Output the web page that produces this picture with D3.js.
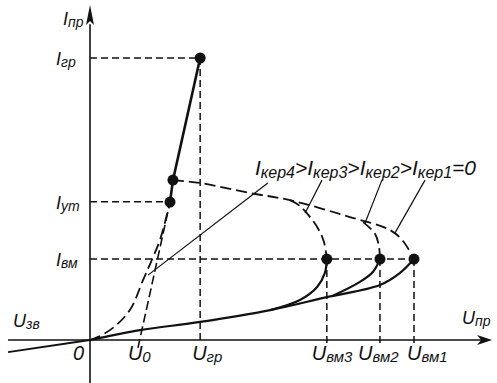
<!DOCTYPE html>
<html><head><meta charset="utf-8">
<script src="https://cdn.jsdelivr.net/npm/d3@7"></script>
<style>body{margin:0;background:#fff}svg text{font-family:"Liberation Sans",Arial,sans-serif;font-style:italic;fill:#111}</style>
</head><body><svg id="c" width="497" height="383"></svg>
<script>
// Values: U in % of U_вм1, I in % of I_гр
const xTickLabels = [["0",""],["U","0"],["U","гр"],["U","вм3"],["U","вм2"],["U","вм1"]];
const xTickValues = [0, 15.4, 34, 73.1, 89.5, 100];
const yTickLabels = [["I","гр"],["I","ут"],["I","вм"]];
const yTickValues = [100, 49, 28.7];
const curveIk1 = [[0,0],[15.4,3.5],[34,6.4],[55.6,10.6],[73.1,15.2],[89.5,19.5],[95.7,23.8],[100,28.7]];
const curveIk3Rise = [[55.6,10.6],[64.8,14.2],[70.1,18.8],[72.5,23.8],[73.1,28.7]];
const curveIk2Rise = [[75,15.7],[83.3,20.6],[87.3,24.1],[89.5,28.7]];
const reverseBranch = [[-25.3,-4.3],[0,0]];
const onState = [[24.7,48.9],[25.6,56.7],[34,100]];
const negIk1 = [[25.6,56.7],[34,55.7],[49.4,52.1],[61.7,49.6],[80.2,43.6],[92.6,39],[96.6,35.1],[100,28.7]];
const negIk2 = [[84.3,41.8],[88,37.6],[89.2,33],[89.5,28.7]];
const negIk3 = [[61.7,49.6],[64.8,47.5],[70.1,40.1],[72.2,34.8],[73.1,28.7]];
const curveIk4 = [[0,0],[2.5,1.1],[7.1,4.3],[12.3,10.6],[16.4,21.3],[19.1,28.4],[21.6,35.5],[24.1,46.1],[24.7,48.9]];
const u0Line = [[14.8,-2.8],[24.7,48.9]];
const dots = [[34,100],[25.6,56.7],[24.7,48.9],[73.1,28.7],[89.5,28.7],[100,28.7]];
const annoLines = [[[54.9,55.7],[17.9,23]],[[71.6,56.7],[66.4,45]],[[90.1,56.7],[84.9,41.5]],[[103.4,56.7],[94.1,37.9]]];
const legendParts = [["I","кер4",">"],["I","кер3",">"],["I","кер2",">"],["I","кер1","=0"]];

const svg = d3.select("#c");
const x = d3.scaleLinear().domain([0,100]).range([90,414]);
const y = d3.scaleLinear().domain([0,100]).range([340,58]);
const ink = "#111";
const line = d3.line().x(d=>x(d[0])).y(d=>y(d[1]));
const smooth = d3.line().x(d=>x(d[0])).y(d=>y(d[1])).curve(d3.curveCatmullRom.alpha(0.5));

// axes
svg.append("line").attr("x1",x(-25.3)).attr("x2",x(122)).attr("y1",y(0)).attr("y2",y(0)).attr("stroke",ink).attr("stroke-width",1.6);
svg.append("line").attr("x1",x(0)).attr("x2",x(0)).attr("y1",y(-16)).attr("y2",y(112)).attr("stroke",ink).attr("stroke-width",1.6);
const xe = x(124.1), y0 = y(0);
svg.append("path").attr("d",`M${xe},${y0} L${xe-15},${y0-5} L${xe-11},${y0} L${xe-15},${y0+5} Z`).attr("fill",ink);
const ye = y(118.8), x0 = x(0);
svg.append("path").attr("d",`M${x0},${ye} L${x0-4},${ye+20} L${x0},${ye+16} L${x0+4},${ye+20} Z`).attr("fill",ink);

// guides
const guide = (pts)=>svg.append("path").attr("d",line(pts)).attr("fill","none").attr("stroke",ink).attr("stroke-width",1.5).attr("stroke-dasharray","7,4");
guide([[0,yTickValues[0]],[34,yTickValues[0]]]);
guide([[0,yTickValues[1]],[24.7,yTickValues[1]]]);
guide([[0,yTickValues[2]],[100,yTickValues[2]]]);
guide([[xTickValues[2],100],[xTickValues[2],0]]);
[3,4,5].forEach(i=>guide([[xTickValues[i],28.7],[xTickValues[i],-1.5]]));

// dashed characteristic curves
const dashC = (pts)=>svg.append("path").attr("d",smooth(pts)).attr("fill","none").attr("stroke",ink).attr("stroke-width",1.8).attr("stroke-dasharray","11,5");
dashC(negIk1); dashC(negIk2); dashC(negIk3); dashC(curveIk4);
svg.append("path").attr("d",line(u0Line)).attr("fill","none").attr("stroke",ink).attr("stroke-width",1.6).attr("stroke-dasharray","9,4");

// solid curves
const solid = (pts,w)=>svg.append("path").attr("d",smooth(pts)).attr("fill","none").attr("stroke",ink).attr("stroke-width",w);
solid(curveIk1,2.2); solid(curveIk3Rise,2.2); solid(curveIk2Rise,2.2); solid(reverseBranch,2);
svg.append("path").attr("d",line(onState)).attr("fill","none").attr("stroke",ink).attr("stroke-width",2.6);

// annotation leader lines
annoLines.forEach(a=>svg.append("path").attr("d",line(a)).attr("fill","none").attr("stroke",ink).attr("stroke-width",1.2));

// dots
svg.selectAll("circle.dot").data(dots).join("circle").attr("cx",d=>x(d[0])).attr("cy",d=>y(d[1])).attr("r",5.5).attr("fill",ink);

// labels
function label(px,py,main,sub,fs,ss){
  const t = svg.append("text").attr("x",px).attr("y",py).attr("font-size",fs);
  t.append("tspan").text(main);
  if(sub) t.append("tspan").attr("font-size",ss).attr("dy",2).text(sub);
  return t;
}
yTickLabels.forEach((l,i)=>label(x(0)-34,y(yTickValues[i])+7,l[0],l[1],18,14));
const xOff = [-17,-12,-8,-15,-22,-7];
xTickLabels.forEach((l,i)=>label(x(xTickValues[i])+xOff[i],360,l[0],l[1],20,15));
label(x(0)-27,25,"I","пр",18,14);
label(13,327,"U","зв",18,14);
label(462,324,"U","пр",18,14);
// legend string
const lg = svg.append("text").attr("x",x(50.9)).attr("y",175).attr("font-size",21);
legendParts.forEach(p=>{
  lg.append("tspan").attr("dy",0).text(p[0]);
  lg.append("tspan").attr("font-size",16).attr("dy",3).text(p[1]);
  lg.append("tspan").attr("dy",-3).text(p[2]);
});
</script></body></html>
